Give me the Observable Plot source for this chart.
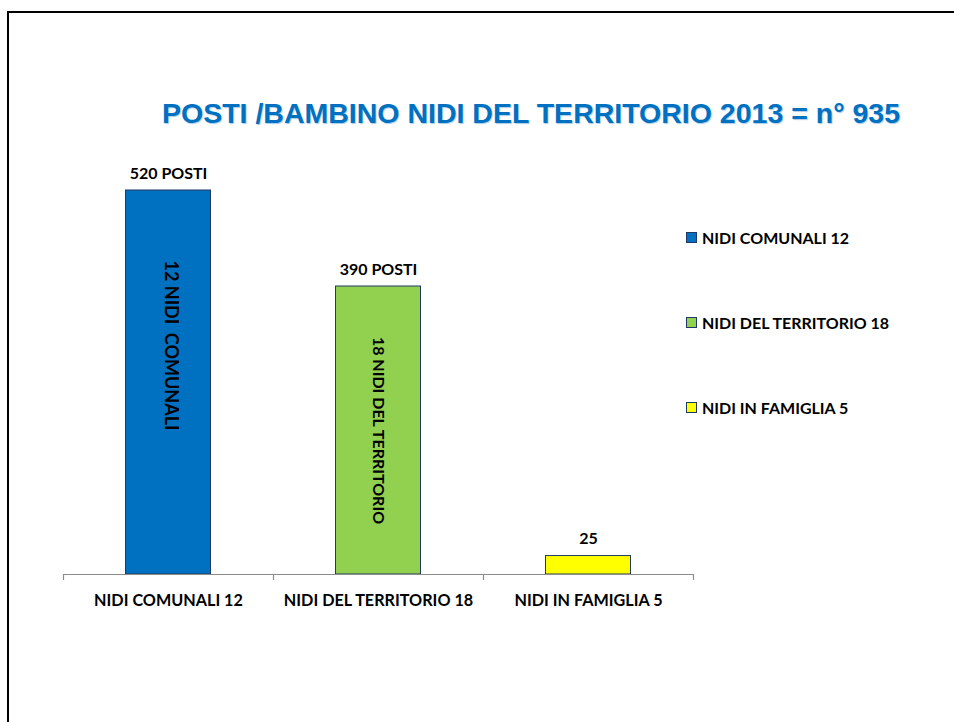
<!DOCTYPE html>
<html>
<head>
<meta charset="utf-8">
<script src="https://cdn.jsdelivr.net/npm/d3@7"></script>
<script src="https://cdn.jsdelivr.net/npm/@observablehq/plot@0.6"></script>
<style>
  html, body { margin: 0; padding: 0; background: #fff; }
  #wrap { position: relative; width: 954px; height: 722px; overflow: hidden; }
  #frame { position: absolute; left: 7px; top: 11px; width: 960px; height: 720px;
           border-left: 2.5px solid #000; border-top: 2.5px solid #000; box-sizing: border-box; }
  #title { position: absolute; left: 0; top: 97px; width: 1062px; text-align: center;
           font-family: "Liberation Sans", Arial, sans-serif; font-weight: bold; font-size: 28.5px;
           color: #0070C0; white-space: nowrap; text-shadow: 1px 1px 1px rgba(0,112,192,0.35); }
  #chart { position: absolute; left: 0; top: 0; }
  #legend { position: absolute; left: 686px; top: 228px; font-family: Lato, sans-serif;
            font-weight: bold; font-size: 16px; color: #000; }
  .item { position: absolute; left: 0; white-space: nowrap; display: flex; align-items: center; }
  .sw { width: 9px; height: 9px; border: 1px solid #203864; margin-right: 5px; }
</style>
</head>
<body>
<div id="wrap">
  <div id="frame"></div>
  <div id="chart"></div>
  <div id="title">POSTI /BAMBINO NIDI DEL TERRITORIO 2013 = n° 935</div>
  <div id="legend"></div>
</div>
<script>
const categories = ["NIDI COMUNALI 12", "NIDI DEL TERRITORIO 18", "NIDI IN FAMIGLIA 5"];
const values = [520, 390, 25];
const valueLabels = ["520 POSTI", "390 POSTI", "25"];
const innerLabels = ["12 NIDI  COMUNALI", "18 NIDI DEL TERRITORIO", ""];
const colors = ["#0070C0", "#92D050", "#FFFF00"];

const data = categories.map((c, i) => ({
  cat: c, value: values[i], label: valueLabels[i], inner: innerLabels[i], color: colors[i]
}));

const font = "Lato, sans-serif";
const chart = Plot.plot({
  width: 954,
  height: 722,
  marginLeft: 63,
  marginRight: 261,
  marginTop: 190,
  marginBottom: 148,
  style: { fontFamily: font, background: "transparent", overflow: "visible" },
  x: { domain: categories, padding: 0, axis: null },
  y: { domain: [0, 520], axis: null },
  marks: [
    Plot.barY(data, { x: "cat", y: "value", fill: "color", stroke: "#203864", strokeWidth: 1,
                      insetLeft: 62.5, insetRight: 62.5 }),
    Plot.ruleY([0], { stroke: "#8c8c8c", strokeWidth: 1.2 }),
    Plot.ruleX(data, { x: "cat", dx: -105, y1: 0, y2: 0, insetBottom: -6, stroke: "#8c8c8c", strokeWidth: 1.2 }),
    Plot.ruleX(data.slice(-1), { x: "cat", dx: 105, y1: 0, y2: 0, insetBottom: -6, stroke: "#8c8c8c", strokeWidth: 1.2 }),
    Plot.text(data, { x: "cat", y: "value", text: "label", dy: -17, fontWeight: "bold", fontSize: 16, fill: "#000" }),
    Plot.text(data, { x: "cat", y: 0, text: "cat", dy: 26, fontWeight: "bold", fontSize: 16.2, fill: "#000" }),
    Plot.text(data.slice(0, 1), { x: "cat", y: d => d.value / 2, text: "inner", rotate: 90, dy: -37, dx: 2,
                                  fontWeight: "bold", fontSize: 18, fill: "#000" }),
    Plot.text(data.slice(1, 2), { x: "cat", y: d => d.value / 2, text: "inner", rotate: 90,
                                  fontWeight: "bold", fontSize: 16, fill: "#000" })
  ]
});
document.getElementById("chart").appendChild(chart);

const legend = document.getElementById("legend");
categories.forEach((c, i) => {
  const item = document.createElement("div");
  item.className = "item";
  item.style.top = (i * 85) + "px";
  const sw = document.createElement("div");
  sw.className = "sw";
  sw.style.background = colors[i];
  const t = document.createElement("span");
  t.textContent = c;
  item.appendChild(sw);
  item.appendChild(t);
  legend.appendChild(item);
});
</script>
</body>
</html>
